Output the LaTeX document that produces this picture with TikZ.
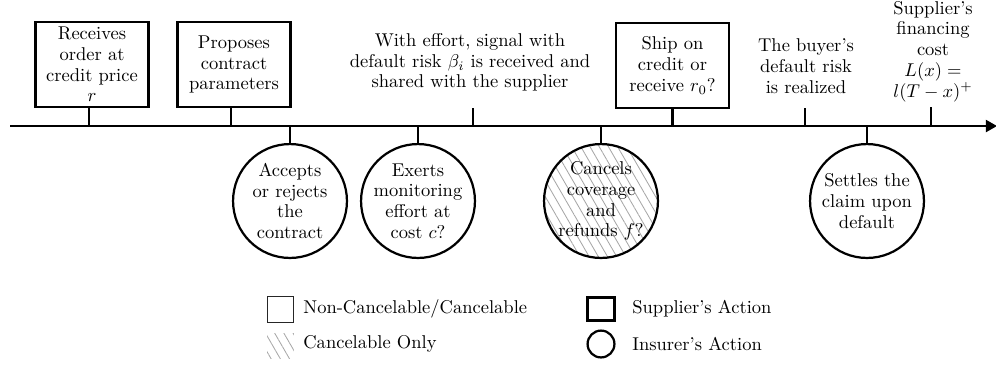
\documentclass[tikz,border=0pt]{standalone}
\usetikzlibrary{arrows.meta,patterns.meta}
\begin{document}
\begin{tikzpicture}[x=0.54pt,y=-0.54pt,
  every node/.style={font=\fontsize{10}{11.2}\selectfont, align=center, inner sep=0pt},
  axis/.style={line width=1.1pt},
  tick/.style={line width=1.1pt},
  supbox/.style={draw, line width=1.2pt, minimum width=61pt, minimum height=46pt},
  insc/.style={draw, circle, line width=1.2pt, minimum size=61.5pt},
  hatch/.style={pattern={Lines[angle=-60,distance=4.3pt,line width=0.45pt]}, pattern color=black!35},
  legtext/.style={anchor=west},
]
\useasboundingbox (0,0) rectangle (996,367);
\coordinate (tl) at (0,126);
\coordinate (ts) at (10,126);
\coordinate (te) at (997,126);
\draw[axis,-{Triangle[length=6pt,width=6.5pt]}] (ts) -- (te);

% supplier's actions (boxes above the line)
\node[supbox] (b1) at (92,64.5) {Receives\\order at\\credit price\\$r$};
\node[supbox] (b2) at (234,64.5) {Proposes\\contract\\parameters};
\node[supbox] (b4) at (672.5,65.5) {Ship on\\credit or\\receive $r_0$?};
\draw[tick] ([xshift=-1.6pt]b1.south) -- ([xshift=-1.6pt]b1.south |- tl);
\draw[tick] ([xshift=-1.6pt]b2.south) -- ([xshift=-1.6pt]b2.south |- tl);
\draw[tick] (b4.south) -- (b4.south |- tl);

% plain events above the line
\node (e3) at (470,62.5) {With effort, signal with\\default risk $\beta_i$ is received and\\shared with the supplier};
\coordinate (k3) at (473,108);
\draw[tick] (k3) -- (k3 |- tl);
\node (e5) at (806,66) {The buyer's\\default risk\\is realized};
\coordinate (k5) at (805,108);
\draw[tick] (k5) -- (k5 |- tl);
\node (e6) at (933,51.5) {Supplier's\\financing\\cost\\$L(x) =$\\$l(T-x)^+$};
\coordinate (k6) at (931,107);
\draw[tick] (k6) -- (k6 |- tl);

% insurer's actions (circles below the line)
\node[insc] (c1) at (290,201) {};
\node at (c1) {Accepts\\or rejects\\the\\contract};
\node[insc] (c2) at (418,201) {};
\node at (c2) {Exerts\\monitoring\\effort at\\cost $c$?};
\node[insc,hatch] (c3) at (601,201) {};
\node at (c3) {Cancels\\coverage\\and\\refunds $f$?};
\node[insc] (c4) at (867,201) {};
\node at (c4) {Settles the\\claim upon\\default};
\foreach \c in {c1,c2,c3,c4} \draw[tick] (\c.north) -- (\c.north |- tl);

% legend
\node[draw, line width=0.5pt, draw=black!85, minimum width=14.5pt, minimum height=14pt] (l1) at (280.5,309) {};
\node[legtext] at (303,309) {Non-Cancelable/Cancelable};
\node[hatch, minimum width=14.5pt, minimum height=14pt] (l2) at (280.5,346) {};
\node[legtext] at (303,344) {Cancelable Only};
\node[draw, line width=1.2pt, minimum width=14.5pt, minimum height=12.5pt] (l3) at (601,309) {};
\node[legtext] at (632,309) {Supplier's Action};
\node[draw, circle, line width=1.2pt, minimum size=14.5pt] (l4) at (601,344) {};
\node[legtext] at (632,344) {Insurer's Action};
\end{tikzpicture}
\end{document}
